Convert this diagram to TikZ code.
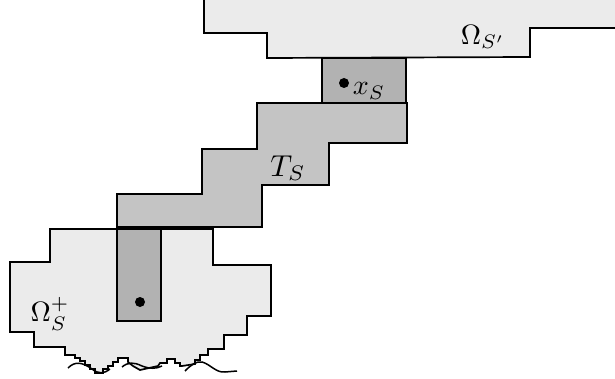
\documentclass[tikz,border=0pt]{standalone}
\usetikzlibrary{calc}
\begin{document}
\begin{tikzpicture}[x=1pt,y=-1pt,
  edge/.style={line width=1.7pt,line join=miter},
  light/.style={fill=black!8},
  mid/.style={fill=black!23},
  dark/.style={fill=black!30},
  lbl/.style={scale=2.8,inner sep=0pt},
  pt/.style={circle,fill=black,inner sep=0pt,minimum size=10pt}]
\useasboundingbox (0,0) rectangle (615,379);
% Omega_S' region
\fill[light] (204,0) -- (204,33) -- (267,33) -- (267,58) -- (530,57) -- (530,28) -- (615,28) -- (615,0) -- cycle;
\draw[edge] (204,0) -- (204,33) -- (267,33) -- (267,58) -- (530,57) -- (530,28) -- (615,28);
% Omega_S^+ region
\path[light,edge,draw] (50,229) -- (213,229) -- (213,265) -- (271,265) -- (271,316) -- (247,316) -- (247,335)
  -- (224,335) -- (224,349) -- (208,349) -- (208,355) -- (200,355) -- (200,360) -- (195,360) -- (195,364)
  -- (182,366) -- (180,366) -- (180,363) -- (175,363) -- (175,359) -- (167,359) -- (167,363) -- (160,363)
  -- (158,366) -- (140,370) -- (133,366) -- (128,362) -- (128,358) -- (118,358) -- (118,362) -- (113,362)
  -- (113,366) -- (108,366) -- (108,369) -- (103,369) -- (103,373) -- (95,373) -- (95,369) -- (90,369)
  -- (90,365) -- (85,365) -- (85,361) -- (80,361) -- (80,358) -- (75,358) -- (75,355) -- (65,355)
  -- (65,347) -- (34,347) -- (34,332) -- (10,332) -- (10,262) -- (50,262) -- cycle;
% torn edge
\draw[line width=1.5pt] (68,368) .. controls (75,361) and (82,362) .. (92,369) .. controls (98,374) and (104,374) .. (110,369);
\draw[line width=1.5pt] (122,367) .. controls (128,362) and (134,362) .. (142,366) .. controls (150,369) and (156,369) .. (162,366);
\draw[line width=1.5pt] (185,371) .. controls (191,365) and (196,361) .. (202,362) .. controls (210,364) and (216,373) .. (225,372) -- (237,371);
% T_S staircase
\path[mid,edge,draw] (257,103) -- (407,103) -- (407,143) -- (329,143) -- (329,185) -- (262,185) -- (262,227)
  -- (117,227) -- (117,194) -- (202,194) -- (202,149) -- (257,149) -- cycle;
% dark boxes
\path[dark,edge,draw] (322,58) rectangle (406,103);
\path[dark,edge,draw] (117,229) rectangle (161,321);
% points
\node[pt] (xs) at (344,83) {};
\node[pt] (p) at (140,302) {};
% labels
\node[lbl] (lxs) at (369,91) {$x_S$};
\node[lbl,scale=1.08] (lts) at (288,168) {$T_S$};
\node[lbl] (los) at (483,37) {$\Omega_{S'}$};
\node[lbl] (lop) at (50,314) {$\Omega_S^+$};
\end{tikzpicture}
\end{document}
